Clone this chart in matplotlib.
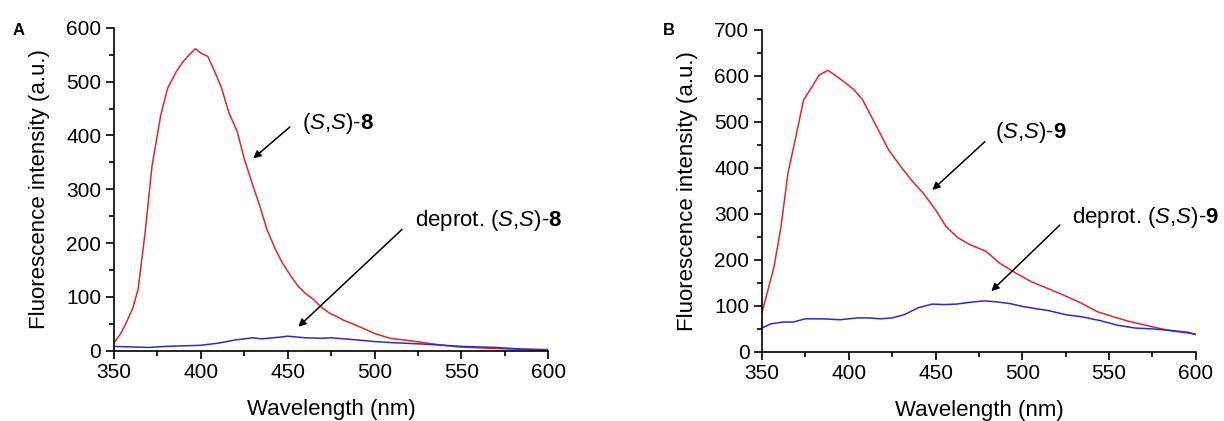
import matplotlib
matplotlib.use("Agg")
import matplotlib.pyplot as plt
from matplotlib.ticker import MultipleLocator

plt.rcParams['font.family'] = ['Liberation Sans', 'DejaVu Sans']
plt.rcParams['mathtext.fontset'] = 'custom'
plt.rcParams['mathtext.rm'] = 'Liberation Sans'
plt.rcParams['mathtext.it'] = 'Liberation Sans:italic'
plt.rcParams['mathtext.bf'] = 'Liberation Sans:bold'

# panel A data
wl_a_red = [350, 354, 357, 361, 364, 368, 372, 377, 381, 386, 390, 394, 397, 400, 404, 408,
            412, 416, 421, 425, 430, 434, 438, 443, 447, 452, 456, 460, 465, 469, 474, 478,
            482, 491, 500, 509, 517, 526, 537, 548, 570, 600]
int_a_red = [14, 32, 51, 80, 115, 220, 344, 438, 488, 519, 538, 552, 561, 553, 547, 519,
             488, 444, 407, 357, 307, 269, 226, 188, 163, 138, 120, 107, 95, 82, 70, 64,
             57, 45, 32, 23, 20, 16, 11, 7, 4, 1]
wl_a_blue = [350, 360, 370, 380, 390, 400, 410, 420, 430, 435, 445, 450, 460, 470, 475, 490,
             500, 510, 530, 550, 570, 585, 600]
int_a_blue = [8, 7, 6, 8, 9, 10, 14, 20, 24, 22, 25, 27, 24, 23, 24, 20,
              17, 15, 12, 8, 6, 3, 2]

# panel B data
wl_b_red = [350, 353, 357, 361, 365, 370, 374, 379, 383, 388, 392, 397, 403, 408, 412, 417,
            423, 430, 436, 443, 450, 456, 463, 470, 479, 487, 496, 505, 514, 523, 534, 543,
            552, 561, 570, 578, 587, 596, 600]
int_b_red = [85, 128, 186, 273, 389, 476, 548, 577, 602, 612, 602, 588, 570, 548, 519, 483,
             439, 403, 374, 345, 309, 273, 248, 233, 219, 193, 172, 153, 139, 125, 106, 88,
             77, 67, 59, 52, 45, 41, 38]
wl_b_blue = [350, 355, 362, 368, 375, 385, 395, 405, 412, 418, 425, 432, 440, 448, 455, 462,
             470, 478, 485, 493, 500, 508, 515, 525, 535, 545, 555, 565, 575, 585, 595, 600]
int_b_blue = [52, 61, 65, 65, 72, 72, 70, 74, 74, 72, 74, 81, 96, 104, 103, 104,
              108, 111, 109, 105, 99, 94, 90, 81, 76, 68, 58, 52, 50, 47, 43, 38]

red = '#e3262b'
blue = '#2b2bd0'

fig = plt.figure(figsize=(12.24, 4.21), dpi=100)
ax1 = fig.add_axes([0.093, 0.167, 0.355, 0.767])
ax2 = fig.add_axes([0.6225, 0.164, 0.3545, 0.765])


def style(ax, ymax, ystep):
    ax.set_xlim(350, 600)
    ax.set_ylim(0, ymax)
    ax.xaxis.set_major_locator(MultipleLocator(50))
    ax.xaxis.set_minor_locator(MultipleLocator(25))
    ax.yaxis.set_major_locator(MultipleLocator(ystep))
    ax.yaxis.set_minor_locator(MultipleLocator(ystep / 2))
    for s in ['top', 'right']:
        ax.spines[s].set_visible(False)
    for s in ['left', 'bottom']:
        ax.spines[s].set_linewidth(1.2)
    ax.tick_params(which='major', direction='out', length=6, width=1.2, labelsize=15, pad=3)
    ax.tick_params(which='minor', direction='out', length=3.5, width=1.2)
    ax.set_xlabel('Wavelength (nm)', fontsize=16, labelpad=12)
    ax.set_ylabel('Fluorescence intensity (a.u.)', fontsize=16, labelpad=12)


arrow = dict(arrowstyle='-|>', color='black', lw=1.1, mutation_scale=11)
fs = 16

ax1.plot(wl_a_red, int_a_red, color=red, lw=1.1)
ax1.plot(wl_a_blue, int_a_blue, color=blue, lw=1.1)
style(ax1, 600, 100)
ax1.annotate('', xy=(429, 354), xytext=(452.5, 419), arrowprops=arrow)
ax1.text(458, 423, r'($\mathit{S}$,$\mathit{S}$)-$\mathbf{8}$', fontsize=fs, va='center')
ax1.annotate('', xy=(455, 41), xytext=(517, 229), arrowprops=arrow)
ax1.text(523, 242, r'deprot. ($\mathit{S}$,$\mathit{S}$)-$\mathbf{8}$', fontsize=fs, va='center')

ax2.plot(wl_b_red, int_b_red, color=red, lw=1.1)
ax2.plot(wl_b_blue, int_b_blue, color=blue, lw=1.1)
style(ax2, 700, 100)
ax2.annotate('', xy=(447, 348), xytext=(479.6, 461), arrowprops=arrow)
ax2.text(484, 476, r'($\mathit{S}$,$\mathit{S}$)-$\mathbf{9}$', fontsize=fs, va='center')
ax2.annotate('', xy=(481, 128), xytext=(522.8, 280), arrowprops=arrow)
ax2.text(528.6, 293, r'deprot. ($\mathit{S}$,$\mathit{S}$)-$\mathbf{9}$', fontsize=fs, va='center')

fig.text(0.010, 0.917, 'A', fontsize=12, fontweight='bold')
fig.text(0.5417, 0.917, 'B', fontsize=12, fontweight='bold')

fig.savefig('out.png', dpi=100)
